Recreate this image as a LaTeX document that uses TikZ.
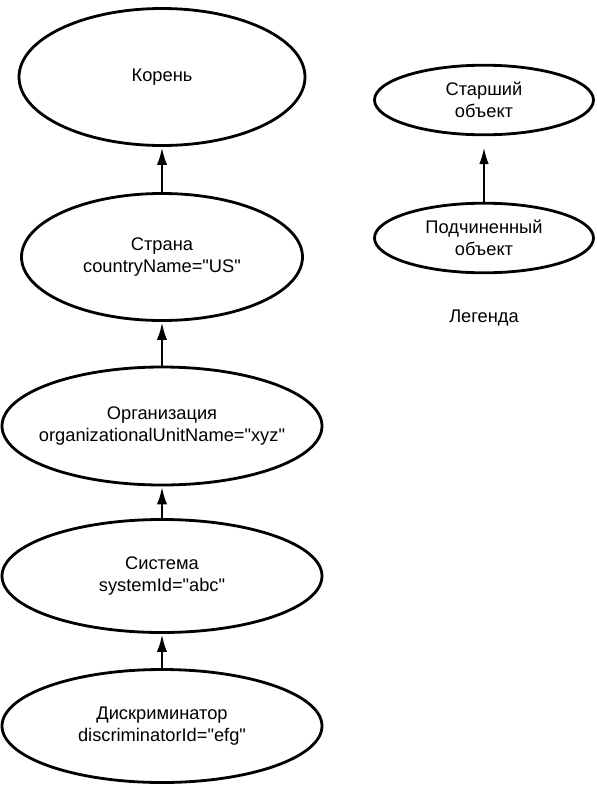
\documentclass[tikz,border=0pt]{standalone}
\usepackage{fontspec}
\newfontfamily\labelfont{Liberation Sans}
\usetikzlibrary{shapes.geometric,arrows.meta}

\begin{document}
\begin{tikzpicture}[node distance=4cm, auto, >={Latex[length=4.5mm,width=2.6mm]}, line width=2pt,
    font=\labelfont\fontsize{13}{15.6}\selectfont]
    % Styles
    \tikzstyle{obj} = [draw, ellipse, inner sep=-0.5cm, align=center, minimum width=8cm, minimum height=2.825cm]
    \tikzstyle{legobj} = [draw, ellipse, inner sep=-0.3cm, align=center, minimum width=5.475cm, minimum height=1.74cm]
    \tikzstyle{thinarrow} = [line width=0.8pt, -{Latex[length=4mm,width=2.4mm]}, shorten >=0.3cm]

    \useasboundingbox (0,0) rectangle (14.925,-19.825);

    % Nodes
    \node [obj, minimum width=7.15cm, minimum height=3.425cm] (root) at (4.05,-1.925) {Корень};
    \node [obj, below of=root, node distance=4.5cm, minimum width=7.025cm, minimum height=3.175cm] (country)
        {Страна\\countryName="US"};
    \node [obj, below of=country, node distance=4.225cm, minimum height=2.95cm] (org)
        {Организация\\organizationalUnitName="xyz"};
    \node [obj, below of=org, node distance=3.75cm] (system) {Система\\systemId="abc"};
    \node [obj, below of=system, node distance=3.75cm] (discr) {Дискриминатор\\discriminatorId="efg"};

    % Legend
    \node [legobj] (senior) at (12.1,-2.5) {Старший\\объект};
    \node [legobj, below of=senior, node distance=3.45cm] (subord) {Подчиненный\\объект};
    \node [below of=subord, node distance=2cm] (legend) {Легенда};

    % Connections
    \draw [->] (country) -- (root);
    \draw [->] (org) -- (country);
    \draw [->] (system) -- (org);
    \draw [->] (discr) -- (system);
    \draw [thinarrow] (subord) -- (senior);
\end{tikzpicture}
\end{document}
